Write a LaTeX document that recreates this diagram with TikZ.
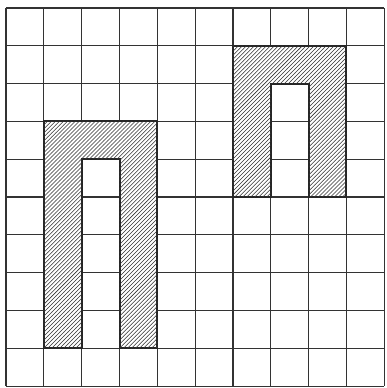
\documentclass[tikz,border=0pt]{standalone}
\usetikzlibrary{patterns}
\tikzset{
  gridline/.style={
    draw=black!80,
    line width=0.9pt
  },
  ushape/.style={
    draw=black!85,
    line width=1.5pt,
    fill=white,
    postaction={pattern=north east lines, pattern color=black!80}
  }
}
\begin{document}
\begin{tikzpicture}
        \useasboundingbox (-0.16,-0.05) rectangle (10.05,10.21);
        \foreach \i in {0,...,10} {
          \draw[gridline] (\i,0) -- (\i,10);
          \draw[gridline] (0,\i) -- (10,\i);
        }
        \draw[ushape] (1,1) -- (1,7) -- (4,7) -- (4,1) -- (3,1) -- (3,6) -- (2,6) -- (2,1) -- cycle;
        \draw[ushape] (6,5) -- (6,9) -- (9,9) -- (9,5) -- (8,5) -- (8,8) -- (7,8) -- (7,5) -- cycle;
      \end{tikzpicture}
\end{document}
